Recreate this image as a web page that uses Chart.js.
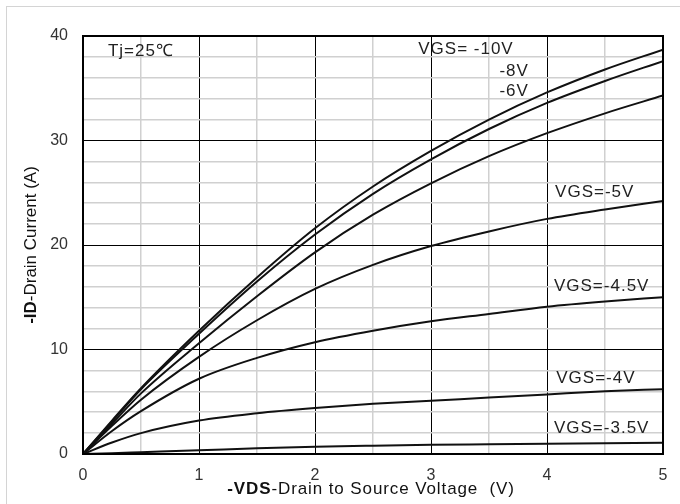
<!DOCTYPE html>
<html>
<head>
<meta charset="utf-8">
<script src="https://cdn.jsdelivr.net/npm/chart.js@4/dist/chart.umd.min.js"></script>
<style>
  html, body { margin: 0; padding: 0; background: #fff; }
  #wrap { width: 680px; height: 504px; position: relative; }
</style>
</head>
<body>
<div id="wrap"><canvas id="idChart" width="680" height="504"></canvas></div>
<script>
// -VDS sample points (V)
const vds = [0, 0.25, 0.5, 1, 1.5, 2, 2.5, 3, 3.5, 4, 4.5, 5];

// -ID (A), one list per gate voltage
const id10 = [0, 3.2, 6.3, 11.8, 16.9, 21.6, 25.6, 29.0, 32.0, 34.6, 36.8, 38.7];
const id8 = [0, 3.1, 6.2, 11.5, 16.5, 21.0, 24.9, 28.2, 31.1, 33.6, 35.7, 37.6];
const id6 = [0, 2.9, 5.8, 10.6, 15.1, 19.3, 22.9, 25.9, 28.5, 30.7, 32.6, 34.3];
const id5 = [0, 2.7, 5.2, 9.3, 12.8, 15.8, 18.1, 19.9, 21.3, 22.5, 23.4, 24.2];
const id45 = [0, 2.2, 4.1, 7.2, 9.2, 10.7, 11.8, 12.7, 13.4, 14.1, 14.6, 15.0];
const id4 = [0, 1.1, 2.0, 3.2, 3.9, 4.4, 4.8, 5.1, 5.4, 5.7, 6.0, 6.2];
const id35 = [0, 0.08, 0.17, 0.35, 0.55, 0.7, 0.8, 0.88, 0.93, 0.98, 1.03, 1.08];

const xTicks = [0, 1, 2, 3, 4, 5];
const yTicks = [0, 10, 20, 30, 40];

// text labels placed in data coordinates (left edge, vertical centre)
const noteText = ["Tj=25\u2103", "VGS= -10V", "-8V", "-6V", "VGS=-5V", "VGS=-4.5V", "VGS=-4V", "VGS=-3.5V"];
const noteX = [0.215, 2.89, 3.59, 3.59, 4.07, 4.06, 4.08, 4.06];
const noteY = [38.5, 38.75, 36.65, 34.75, 25.05, 16.0, 7.2, 2.5];

const series = [id10, id8, id6, id5, id45, id4, id35];

const FONT = "'Liberation Sans', Arial, sans-serif";

function drawMixed(ctx, parts, x, y, spacing) {
  // parts: [[text, bold], ...] centred on x,y
  ctx.letterSpacing = spacing;
  let total = 0;
  parts.forEach(p => {
    ctx.font = (p[1] ? "bold " : "") + "17px " + FONT;
    total += ctx.measureText(p[0]).width;
  });
  let cx = x - total / 2;
  ctx.textAlign = "left";
  ctx.textBaseline = "middle";
  parts.forEach(p => {
    ctx.font = (p[1] ? "bold " : "") + "17px " + FONT;
    ctx.fillText(p[0], cx, y);
    cx += ctx.measureText(p[0]).width;
  });
  ctx.letterSpacing = "0px";
}

const extras = {
  id: "extras",
  beforeDraw(chart) {
    const ctx = chart.ctx;
    ctx.save();
    ctx.fillStyle = "#fff";
    ctx.fillRect(0, 0, chart.width, chart.height);
    ctx.strokeStyle = "#d4d4d4";
    ctx.lineWidth = 1;
    ctx.strokeRect(6.5, 6.5, 700, 520);
    ctx.restore();
  },
  afterDraw(chart) {
    const ctx = chart.ctx;
    const a = chart.chartArea;
    const xs = chart.scales.x, ys = chart.scales.y;
    ctx.save();
    // plot frame
    ctx.strokeStyle = "#000";
    ctx.lineWidth = 2;
    ctx.strokeRect(a.left, a.top, a.right - a.left, a.bottom - a.top);

    // notes
    ctx.fillStyle = "#222";
    ctx.font = "17px " + FONT;
    ctx.letterSpacing = "1px";
    ctx.textAlign = "left";
    ctx.textBaseline = "middle";
    noteText.forEach((t, i) => {
      ctx.fillText(t, xs.getPixelForValue(noteX[i]), ys.getPixelForValue(noteY[i]));
    });
    ctx.letterSpacing = "0px";

    // axis titles
    ctx.fillStyle = "#111";
    drawMixed(ctx, [["-VDS", true], ["-Drain to Source Voltage  (V)", false]], 371, 489, "0.9px");
    ctx.translate(31, 245);
    ctx.rotate(-Math.PI / 2);
    drawMixed(ctx, [["-ID", true], ["-Drain Current (A)", false]], 0, 0, "0px");
    ctx.restore();
  }
};

new Chart(document.getElementById("idChart").getContext("2d"), {
  type: "line",
  data: {
    datasets: series.map(s => ({
      data: s.map((v, i) => ({ x: vds[i], y: v })),
      borderColor: "#111",
      borderWidth: 2,
      pointRadius: 0,
      cubicInterpolationMode: "monotone",
      fill: false
    }))
  },
  options: {
    responsive: false,
    animation: false,
    layout: { padding: { left: 0, top: 36, right: 17, bottom: 0 } },
    plugins: { legend: { display: false }, tooltip: { enabled: false } },
    scales: {
      x: {
        type: "linear",
        min: 0,
        max: 5,
        afterFit: s => { s.height = 50; },
        border: { display: false },
        grid: {
          drawTicks: false,
          color: c => (xTicks.includes(c.tick.value) ? "#000" : "#d0d0d0"),
          lineWidth: c => (xTicks.includes(c.tick.value) ? 1 : 1.5)
        },
        ticks: {
          stepSize: 0.5,
          padding: 12,
          color: "#333",
          font: { family: FONT, size: 16 },
          maxRotation: 0,
          autoSkip: false,
          callback: v => (xTicks.includes(v) ? String(v) : "")
        }
      },
      y: {
        min: 0,
        max: 40,
        afterFit: s => { s.width = 83; },
        border: { display: false },
        grid: {
          drawTicks: false,
          color: c => (yTicks.includes(c.tick.value) ? "#000" : "#d0d0d0"),
          lineWidth: c => (yTicks.includes(c.tick.value) ? 1 : 1.5)
        },
        ticks: {
          stepSize: 2,
          padding: 15,
          color: "#333",
          font: { family: FONT, size: 16 },
          autoSkip: false,
          callback: v => (yTicks.includes(v) ? String(v) : "")
        }
      }
    }
  },
  plugins: [extras]
});
</script>
</body>
</html>
